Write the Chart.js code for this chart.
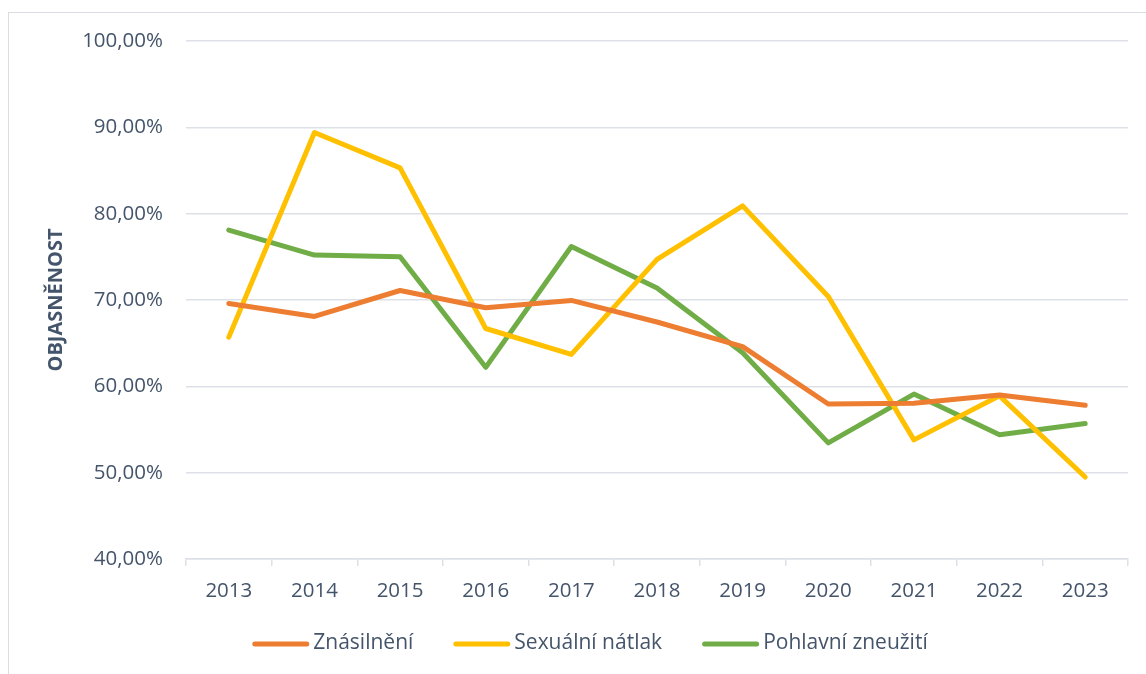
<!DOCTYPE html>
<html lang="cs">
<head>
<meta charset="utf-8">
<script src="https://cdn.jsdelivr.net/npm/chart.js@4.4.1/dist/chart.umd.min.js"></script>
<style>
    html, body { margin: 0; padding: 0; background: #fff; }
    #frame {
        position: absolute; left: 8px; top: 12px;
        width: 1160px; height: 690px;
        border: 1px solid #dadde2;
    }
    #wrap { position: absolute; left: 0; top: 0; width: 1146px; height: 674px; }
</style>
</head>
<body>
<div id="frame"></div>
<div id="wrap"><canvas id="grafObjasnenost"></canvas></div>
<script>
// roky a hodnoty objasněnosti (%)
const roky = ['2013', '2014', '2015', '2016', '2017', '2018', '2019', '2020', '2021', '2022', '2023'];
const znasilneni = [69.6, 68.1, 71.1, 69.1, 69.95, 67.45, 64.6, 57.95, 58.05, 59.0, 57.8];
const sexualniNatlak = [65.7, 89.4, 85.3, 66.7, 63.7, 74.7, 80.9, 70.4, 53.8, 58.9, 49.5];
const pohlavniZneuziti = [78.1, 75.2, 75.0, 62.2, 76.2, 71.4, 63.9, 53.45, 59.1, 54.4, 55.7];
const osaY = { min: 40, max: 100, krok: 10 };

const textColor = '#44546A';
const gridColor = '#dde1e7';
const fontFam = '"Open Sans", "DejaVu Sans", sans-serif';

function serie(label, data, color) {
    return {
        label: label,
        data: data,
        borderColor: color,
        backgroundColor: color,
        borderWidth: 5,
        borderCapStyle: 'round',
        borderJoinStyle: 'round',
        pointRadius: 0,
        pointHoverRadius: 0,
        tension: 0
    };
}

// legenda pod grafem: čára + popisek, celé vycentrované
const legendaPlugin = {
    id: 'legenda',
    afterDraw(chart) {
        const ctx = chart.ctx;
        const stredX = 590, y = 643;
        const delkaCary = 57, mezeraText = 4, mezeraPolozky = 40;
        ctx.save();
        ctx.font = '21px ' + fontFam;
        ctx.textBaseline = 'middle';
        const polozky = chart.data.datasets.map(ds => ({
            text: ds.label,
            barva: ds.borderColor,
            sirka: delkaCary + mezeraText + ctx.measureText(ds.label).width
        }));
        const celkem = polozky.reduce((s, p) => s + p.sirka, 0) + mezeraPolozky * (polozky.length - 1);
        let x = stredX - celkem / 2;
        polozky.forEach(p => {
            ctx.strokeStyle = p.barva;
            ctx.lineWidth = 5;
            ctx.lineCap = 'round';
            ctx.beginPath();
            ctx.moveTo(x + 2.5, y + 1);
            ctx.lineTo(x + delkaCary - 2.5, y + 1);
            ctx.stroke();
            ctx.fillStyle = textColor;
            ctx.fillText(p.text, x + delkaCary + mezeraText, y);
            x += p.sirka + mezeraPolozky;
        });
        ctx.restore();
    }
};

document.addEventListener('DOMContentLoaded', () => {
    const ctx = document.getElementById('grafObjasnenost').getContext('2d');
    window.grafObjasnenost = new Chart(ctx, {
        type: 'line',
        data: {
            labels: roky,
            datasets: [
                serie('Znásilnění', znasilneni, '#ED7D31'),
                serie('Sexuální nátlak', sexualniNatlak, '#FFC000'),
                serie('Pohlavní zneužití', pohlavniZneuziti, '#70AD47')
            ]
        },
        options: {
            responsive: true,
            maintainAspectRatio: false,
            animation: false,
            layout: { padding: { top: 41, right: 18, bottom: 71, left: 0 } },
            plugins: {
                legend: { display: false },
                tooltip: { enabled: false }
            },
            scales: {
                x: {
                    offset: true,
                    grid: {
                        offset: true,
                        drawOnChartArea: false,
                        tickLength: 7,
                        color: gridColor,
                        lineWidth: 1.5
                    },
                    border: { color: gridColor, width: 1.5 },
                    ticks: {
                        padding: 13,
                        color: textColor,
                        font: { family: fontFam, size: 20.5 },
                        maxRotation: 0
                    },
                    afterFit: (s) => { s.height = 44; }
                },
                y: {
                    min: osaY.min,
                    max: osaY.max,
                    border: { display: false },
                    grid: { color: gridColor, lineWidth: 1.5, drawTicks: false },
                    ticks: {
                        stepSize: osaY.krok,
                        padding: 23,
                        color: textColor,
                        font: { family: fontFam, size: 20.5 },
                        callback: (v) => v.toFixed(2).replace('.', ',') + '%'
                    },
                    title: {
                        display: true,
                        text: 'OBJASNĚNOST',
                        color: textColor,
                        font: { family: fontFam, size: 20, weight: 'bold' },
                        padding: { top: 44.5, bottom: 0 }
                    },
                    afterFit: (s) => { s.width = 186; }
                }
            }
        },
        plugins: [legendaPlugin]
    });
});
</script>
</body>
</html>
